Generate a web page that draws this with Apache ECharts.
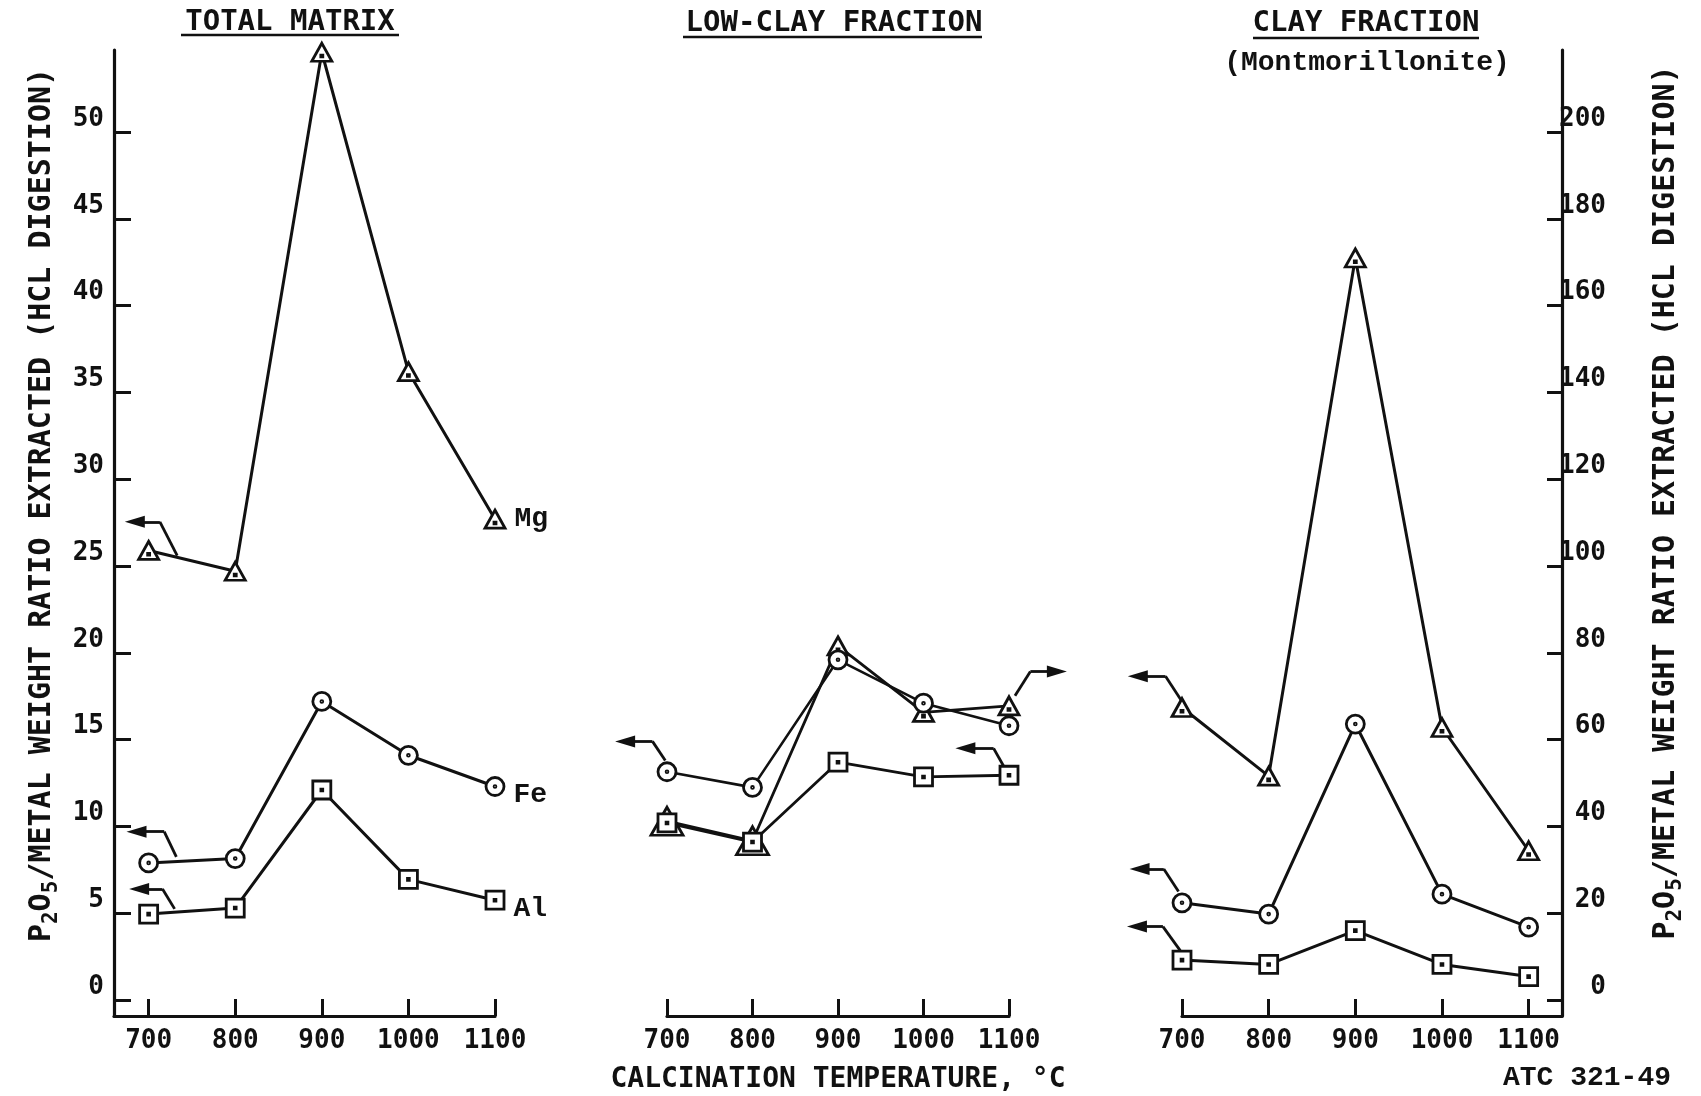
<!DOCTYPE html>
<html>
<head>
<meta charset="utf-8">
<script src="https://cdn.jsdelivr.net/npm/echarts@6/dist/echarts.min.js"></script>
<style>html,body{margin:0;padding:0;background:#fff}#c{width:1701px;height:1096px}</style>
</head>
<body>
<div id="c"></div>
<script>
// ---------------- data ----------------
const temps = [700, 800, 900, 1000, 1100];
const xTicks = [700, 800, 900, 1000, 1100];
const leftTicks = [0, 5, 10, 15, 20, 25, 30, 35, 40, 45, 50];
const rightTicks = [0, 20, 40, 60, 80, 100, 120, 140, 160, 180, 200];

// TOTAL MATRIX (left axis)
const totalMg = [25.9, 24.7, 54.6, 36.2, 27.7];
const totalFe = [7.9, 8.15, 17.2, 14.1, 12.3];
const totalAl = [4.95, 5.3, 12.1, 6.95, 5.75];
// LOW-CLAY FRACTION
const lowClayFe = [13.15, 12.25, 19.6, 17.1, 15.8];   // left axis
const lowClayAl = [10.2, 9.1, 13.7, 12.85, 12.95];    // left axis
const lowClayMg = [41.2, 36.7, 81.6, 66.3, 67.8];     // right axis
// CLAY FRACTION (Montmorillonite) (left axis)
const clayMg = [16.85, 12.9, 42.75, 15.7, 8.6];
const clayFe = [5.6, 4.95, 15.9, 6.1, 4.2];
const clayAl = [2.3, 2.05, 4.0, 2.05, 1.35];

// axis-pointer arrows (data coordinates): start, corner, arrowhead centre
const arrowTotalMg = [[733, 25.6], [713, 27.55], [684, 27.55]];
const arrowTotalFe = [[732, 8.25], [718, 9.7], [686, 9.7]];
const arrowTotalAl = [[730, 5.25], [716, 6.4], [689, 6.4]];
const arrowLowFe = [[698, 13.8], [683, 14.9], [651, 14.9]];
const arrowLowAl = [[1094, 13.45], [1082, 14.5], [1049, 14.5]];
const arrowLowMg = [[1107, 70.1], [1125, 75.7], [1156, 75.7]];   // right axis units
const arrowClayMg = [[700, 17.2], [681, 18.65], [649, 18.65]];
const arrowClayFe = [[696, 6.25], [679, 7.55], [651, 7.55]];
const arrowClayAl = [[698, 2.85], [678, 4.23], [648, 4.23]];

// ---------------- style ----------------
const INK = '#111';
const FONT = '"DejaVu Sans Mono", monospace';
const SERIF = '"Liberation Mono", monospace';
const Y_MIN = -0.92, Y_MAX = 54.73, R = 4;
const SYM = {
  tri: 'path://M0,-10L11,9L-11,9ZM-1,2.5L1,2.5L1,4.5L-1,4.5Z',
  circ: 'path://M0,-10A10,10,0,1,1,0,10A10,10,0,1,1,0,-10ZM0,-1A1,1,0,1,1,0,1A1,1,0,1,1,0,-1Z',
  sq: 'path://M-10,-10L10,-10L10,10L-10,10ZM-1,-1L1,-1L1,1L-1,1Z'
};

function lineSeries(values, sym, xi, yi, opts) {
  opts = opts || {};
  const lbl = opts.label;
  delete opts.label;
  return Object.assign({
    type: 'line', xAxisIndex: xi, yAxisIndex: yi,
    data: temps.map((t, i) => {
      if (lbl && i === temps.length - 1) {
        return { value: [t, values[i]], label: Object.assign({
          show: true, position: 'right', distance: 8, color: INK,
          fontFamily: SERIF, fontSize: 28, fontWeight: 'bold'
        }, lbl) };
      }
      return [t, values[i]];
    }),
    symbol: sym, symbolSize: 18, showAllSymbol: true,
    lineStyle: { color: INK, width: 3 },
    itemStyle: { color: '#fff', borderColor: INK, borderWidth: 2.8 },
    emphasis: { disabled: true }, silent: true, clip: false, z: 3
  }, opts);
}
function arrow(c, xi, yi) {
  const base = {
    type: 'lines', coordinateSystem: 'cartesian2d', xAxisIndex: xi, yAxisIndex: yi,
    polyline: false, lineStyle: { color: INK, width: 2.8, opacity: 1, curveness: 0 },
    silent: true, clip: false, z: 2
  };
  return [
    Object.assign({}, base, { data: [{ coords: [c[0], c[1]] }], symbol: 'none' }),
    Object.assign({}, base, { data: [{ coords: [c[1], c[2]] }], symbol: ['none', 'triangle'], symbolSize: [[1, 1], [12, 20]] })
  ];
}

const nameRich = {
  n: { fontFamily: FONT, fontSize: 30, fontWeight: 'bold', color: INK, lineHeight: 40 },
  s: { fontFamily: FONT, fontSize: 21, fontWeight: 'bold', color: INK, lineHeight: 21, verticalAlign: 'bottom' }
};
const yName = '{n|P}{s|2}{n|O}{s|5}{n|/METAL WEIGHT RATIO EXTRACTED (HCL DIGESTION)}';

function xAxis(grid, min, max, extra) {
  return Object.assign({
    type: 'value', gridIndex: grid, min: min, max: max, position: 'bottom',
    axisLine: { show: true, onZero: false, lineStyle: { color: INK, width: 3.2 } },
    axisTick: { show: true, inside: true, length: 17, customValues: xTicks, lineStyle: { color: INK, width: 3 } },
    axisLabel: { show: true, customValues: xTicks, margin: 12, color: INK, fontFamily: FONT, fontSize: 26, fontWeight: 'bold', formatter: v => String(v) },
    splitLine: { show: false }
  }, extra || {});
}
const yLabel = { color: INK, fontFamily: FONT, fontSize: 26, fontWeight: 'bold', verticalAlign: 'bottom', formatter: v => String(v) };

const option = {
  animation: false,
  backgroundColor: '#fff',
  grid: [
    { left: 114, top: 50, width: 381, height: 966, containLabel: false, outerBoundsMode: 'none' },
    { left: 667, top: 50, width: 342, height: 966, containLabel: false, outerBoundsMode: 'none' },
    { left: 1182, top: 50, width: 380, height: 966, containLabel: false, outerBoundsMode: 'none' }
  ],
  xAxis: [
    xAxis(0, 660, 1100),
    xAxis(1, 700, 1100, {
      name: 'CALCINATION TEMPERATURE, °C', nameLocation: 'middle', nameGap: 50,
      nameTextStyle: { fontFamily: FONT, fontSize: 28, fontWeight: 'bold', color: INK }
    }),
    xAxis(2, 700, 1138.5)
  ],
  yAxis: [
    {
      type: 'value', gridIndex: 0, min: Y_MIN, max: Y_MAX, position: 'left',
      axisLine: { show: true, onZero: false, lineStyle: { color: INK, width: 3.2 } },
      axisTick: { show: true, inside: true, length: 17, customValues: leftTicks, lineStyle: { color: INK, width: 3 } },
      axisLabel: Object.assign({ customValues: leftTicks, margin: 10 }, yLabel),
      splitLine: { show: false },
      name: yName, nameLocation: 'middle', nameRotate: 90, nameGap: 52,
      nameTextStyle: { rich: nameRich, padding: [0, 0, 0, 56] }
    },
    { type: 'value', gridIndex: 1, min: Y_MIN, max: Y_MAX, show: false, position: 'left' },
    { type: 'value', gridIndex: 1, min: Y_MIN * R, max: Y_MAX * R, show: false, position: 'right' },
    { type: 'value', gridIndex: 2, min: Y_MIN, max: Y_MAX, show: false, position: 'left' },
    {
      type: 'value', gridIndex: 2, min: Y_MIN * R, max: Y_MAX * R, position: 'right',
      axisLine: { show: true, onZero: false, lineStyle: { color: INK, width: 3.2 } },
      axisTick: { show: true, inside: true, length: 15, customValues: rightTicks, lineStyle: { color: INK, width: 3 } },
      axisLabel: Object.assign({ customValues: rightTicks, margin: 44, align: 'right' }, yLabel),
      splitLine: { show: false },
      name: yName, nameLocation: 'middle', nameRotate: 90, nameGap: 84,
      nameTextStyle: { rich: nameRich, padding: [0, 0, 0, 61] }
    }
  ],
  graphic: [
    { type: 'text', x: 290, y: 22, style: { text: 'TOTAL MATRIX', font: 'bold 29px ' + FONT, fill: INK, align: 'center', verticalAlign: 'middle' } },
    { type: 'line', shape: { x1: 181, y1: 35, x2: 399, y2: 35 }, style: { stroke: INK, lineWidth: 2.6 } },
    { type: 'text', x: 834, y: 23, style: { text: 'LOW-CLAY FRACTION', font: 'bold 29px ' + FONT, fill: INK, align: 'center', verticalAlign: 'middle' } },
    { type: 'line', shape: { x1: 683, y1: 37, x2: 982, y2: 37 }, style: { stroke: INK, lineWidth: 2.6 } },
    { type: 'text', x: 1366, y: 23, style: { text: 'CLAY FRACTION', font: 'bold 29px ' + FONT, fill: INK, align: 'center', verticalAlign: 'middle' } },
    { type: 'line', shape: { x1: 1253, y1: 38, x2: 1479, y2: 38 }, style: { stroke: INK, lineWidth: 2.6 } },
    { type: 'text', x: 1367, y: 63, style: { text: '(Montmorillonite)', font: 'bold 28px ' + SERIF, fill: INK, align: 'center', verticalAlign: 'middle' } },
    { type: 'text', x: 1671, y: 1078, style: { text: 'ATC 321-49', font: 'bold 28px ' + SERIF, fill: INK, align: 'right', verticalAlign: 'middle' } }
  ],
  series: [].concat(
    // total matrix
    arrow(arrowTotalMg, 0, 0), arrow(arrowTotalFe, 0, 0), arrow(arrowTotalAl, 0, 0),
    [
      lineSeries(totalMg, SYM.tri, 0, 0, { symbolSize: [20, 18], label: { formatter: 'Mg', offset: [0, 0] } }),
      lineSeries(totalFe, SYM.circ, 0, 0, { label: { formatter: 'Fe', offset: [0, 8] } }),
      lineSeries(totalAl, SYM.sq, 0, 0, { label: { formatter: 'Al', offset: [0, 9] } })
    ],
    // low-clay fraction
    arrow(arrowLowFe, 1, 1), arrow(arrowLowAl, 1, 1), arrow(arrowLowMg, 1, 2),
    [
      lineSeries(lowClayMg, SYM.tri, 1, 2, { symbolSize: (v, p) => (p.dataIndex < 2 ? [32, 28] : [20, 18]), lineStyle: { color: INK, width: 2.8 } }),
      lineSeries(lowClayFe, SYM.circ, 1, 1, { lineStyle: { color: INK, width: 2.6 } }),
      lineSeries(lowClayAl, SYM.sq, 1, 1, { lineStyle: { color: INK, width: 2.8 } })
    ],
    // clay fraction
    arrow(arrowClayMg, 2, 3), arrow(arrowClayFe, 2, 3), arrow(arrowClayAl, 2, 3),
    [
      lineSeries(clayMg, SYM.tri, 2, 3, { symbolSize: [20, 18] }),
      lineSeries(clayFe, SYM.circ, 2, 3),
      lineSeries(clayAl, SYM.sq, 2, 3)
    ]
  )
};
const chart = echarts.init(document.getElementById('c'), null, { renderer: 'canvas' });
chart.setOption(option);
</script>
</body>
</html>
